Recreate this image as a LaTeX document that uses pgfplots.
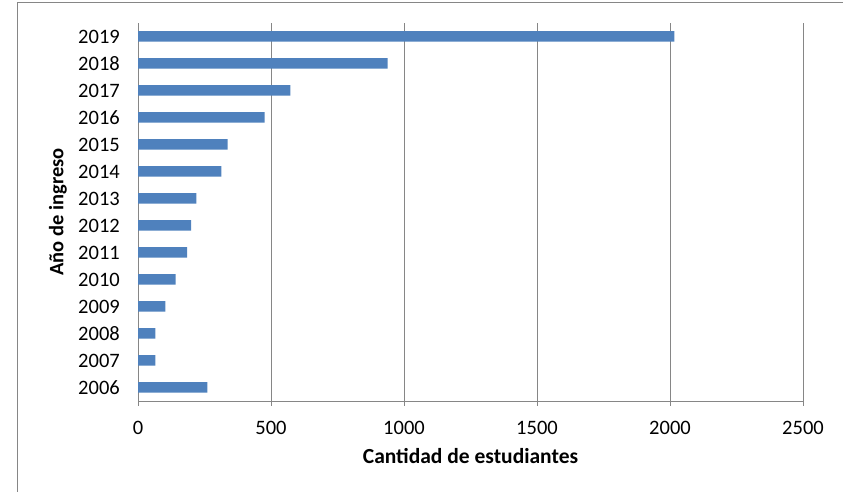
\documentclass[border=0pt]{standalone}
\usepackage{fontspec}
\setmainfont{Carlito}
\usepackage{pgfplots}
\pgfplotsset{compat=1.18}
\definecolor{barblue}{HTML}{4F81BD}
\definecolor{gridgray}{HTML}{868686}
\begin{document}
\begin{tikzpicture}
\useasboundingbox (0pt,0pt) rectangle (843pt,492pt);
\draw[gridgray, line width=1pt] (17pt,0pt) -- (17pt,489pt) -- (843pt,489pt);
\begin{axis}[
  at={(138pt,91pt)}, anchor=south west,
  scale only axis, width=665pt, height=378pt,
  xbar, bar width=10.5pt, bar shift=0pt,
  xmin=0, xmax=2500, ymin=-0.5, ymax=13.5,
  xtick={0,500,1000,1500,2000,2500},
  ytick={0,1,2,3,4,5,6,7,8,9,10,11,12,13},
  yticklabels={2006,2007,2008,2009,2010,2011,2012,2013,2014,2015,2016,2017,2018,2019},
  axis x line*=bottom, axis y line*=left,
  axis line style={gridgray, line width=0.9pt, -},
  xmajorgrids, major grid style={gridgray, line width=0.9pt},
  x tick style={gridgray, line width=0.9pt}, tick align=outside, major tick length=5pt,
  y tick style={draw=none},
  /pgf/number format/assume math mode=true,
  /pgf/number format/set thousands separator={},
  tick label style={font=\fontsize{20.5}{24}\selectfont, inner sep=0pt, text=black},
  xticklabel style={anchor=center, yshift=-22pt},
  yticklabel style={anchor=east, xshift=-13pt},
  xlabel={Cantidad de estudiantes},
  ylabel={Año de ingreso},
  xlabel style={font=\fontsize{21.5}{24}\selectfont\bfseries, at={(axis description cs:0.5,0)}, anchor=center, yshift=-55pt},
  ylabel style={font=\fontsize{20.5}{24}\selectfont\bfseries, at={(axis description cs:0,0.5)}, anchor=center, yshift=80pt},
]
\addplot[fill=barblue, draw=none] coordinates {
  (261,0) (65,1) (65,2) (103,3) (141,4) (185,5) (200,6)
  (219,7) (313,8) (337,9) (476,10) (573,11) (938,12) (2016,13)
};
\end{axis}
\end{tikzpicture}
\end{document}
